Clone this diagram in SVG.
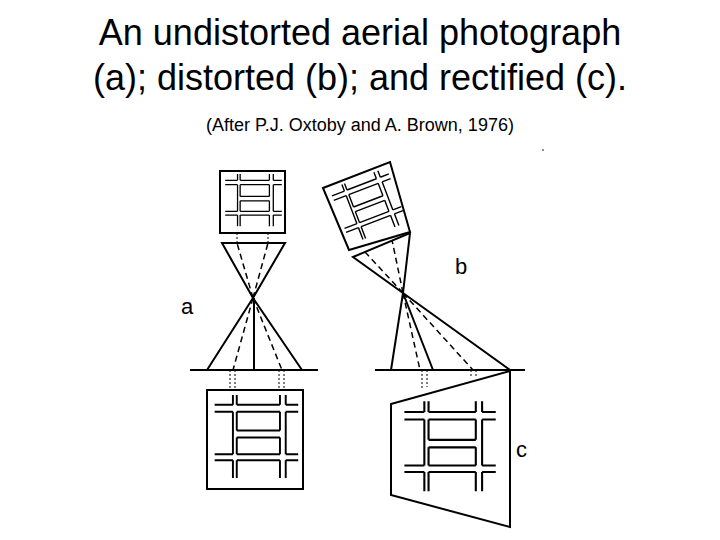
<svg xmlns="http://www.w3.org/2000/svg" xmlns:xlink="http://www.w3.org/1999/xlink" width="720" height="540" viewBox="0 0 720 540">
<style>
.t{font-family:"Liberation Sans",Arial,sans-serif;fill:#000}
.s{stroke:#000;stroke-width:2;fill:none}
.d{stroke:#000;stroke-width:1.5;fill:none;stroke-dasharray:6 4}
.o{stroke:#000;stroke-width:1;fill:none;stroke-dasharray:2 2}
</style>
<defs>
<g id="grid" class="s" stroke-width="2.5">
<path d="M8 15H27M31 15H76M82 15H95M8 22H27M31 22H76M82 22H95M31 41H76M31 48H76M8 65H27M31 65H76M82 65H95M8 71H27M31 71H76M82 71H95"/>
<path d="M27 5V15M31 5V15M76 5V15M82 5V15M27 22V65M31 22V41M31 48V65M76 22V41M76 48V65M82 22V65M27 71V89M31 71V89M76 71V89M82 71V89"/>
</g>
</defs>
<rect width="720" height="540" fill="#fff"/>
<text class="t" x="360" y="45" font-size="36" text-anchor="middle">An undistorted aerial photograph</text>
<text class="t" x="360" y="90" font-size="36" text-anchor="middle">(a); distorted (b); and rectified (c).</text>
<text class="t" x="360" y="131" font-size="18" text-anchor="middle">(After P.J. Oxtoby and A. Brown, 1976)</text>
<circle cx="543" cy="150" r="0.8" fill="#000"/>
<g id="photo-a">
<rect class="s" x="220" y="171" width="65" height="62"/>
<use xlink:href="#grid" transform="translate(220,171) scale(0.65,0.62)"/>
</g>
<g id="cone-a">
<path class="s" d="M222 243H285L253 298ZM253 298L207 370M253 298L302 370M254 298V370M190 370H318"/>
<path class="d" d="M253 298L237 243M253 298L268 243M253 298L233 370M253 298L282 370"/>
<path class="o" d="M230 370V390M235 370V390M279 370V390M284 370V390M237 233V243M268 233V243"/>
</g>
<g id="ground-a">
<rect class="s" x="207" y="390" width="96" height="99"/>
<use xlink:href="#grid" transform="translate(207,390) scale(0.96,0.99)"/>
</g>
<g id="photo-b">
<path class="s" d="M323 188L390 162L410 232L349 250Z"/>
<use xlink:href="#grid" transform="translate(323,188) rotate(-21) scale(0.7)"/>
</g>
<g id="cone-b">
<path class="s" d="M353 257L410 233L403 293ZM403 293L391 370M403 293L433 370M403 293L510 370M375 370H525"/>
<path class="d" d="M403 293L365 252M403 293L392 240M403 293L420 370M403 293L473 370"/>
<path class="o" d="M422 370V388M427 370V387M471 370V378M476 370V376"/>
</g>
<g id="photo-c">
<path class="s" d="M391 404L510 371L510 527L391 495Z"/>
<use xlink:href="#grid" transform="translate(396,396) scale(1.05,1.07)"/>
</g>
<text class="t" x="181" y="314" font-size="22">a</text>
<text class="t" x="455" y="274" font-size="22">b</text>
<text class="t" x="516" y="457" font-size="22">c</text>
</svg>
